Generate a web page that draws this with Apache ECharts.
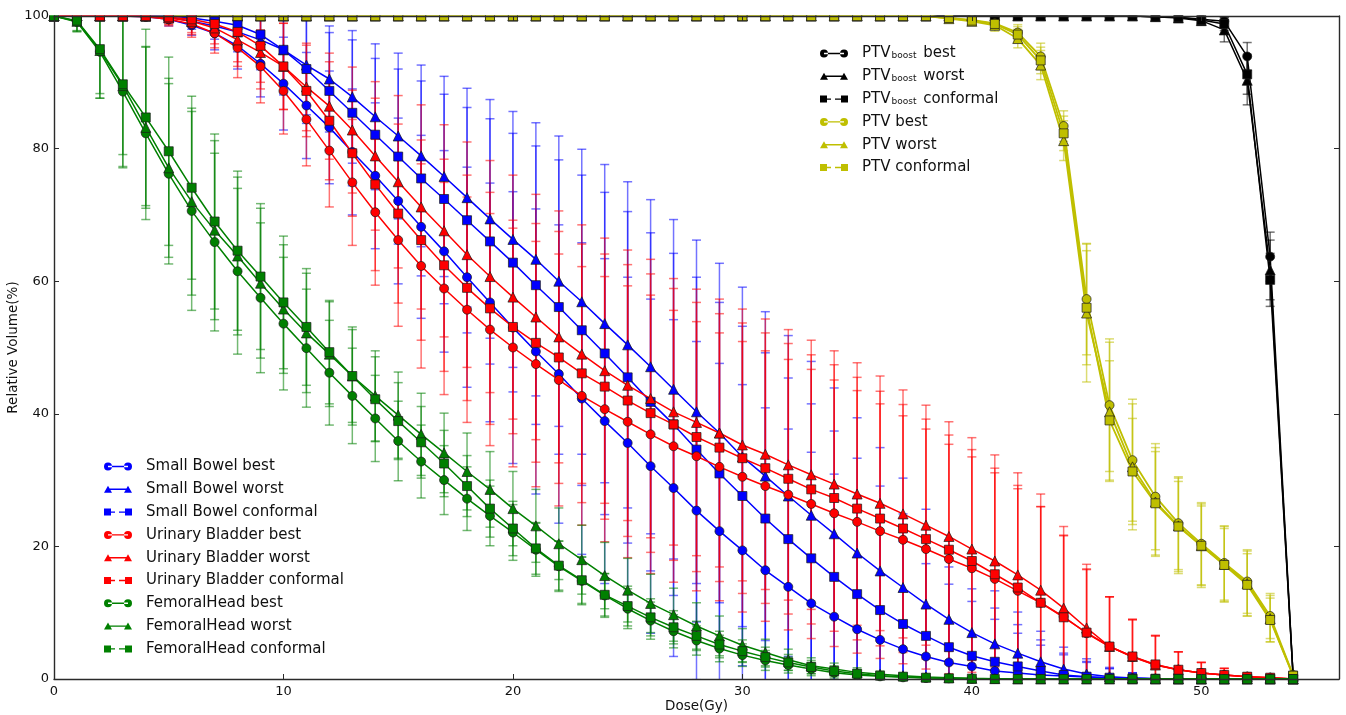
<!DOCTYPE html>
<html>
<head>
<meta charset="utf-8">
<title>Dose-volume histogram</title>
<script src="https://cdn.jsdelivr.net/npm/echarts/dist/echarts.min.js"></script>
<style>
  html, body { margin: 0; padding: 0; background: #fff; }
  #chart { width: 1346px; height: 715px; }
</style>
</head>
<body>
<div id="chart"></div>
<script>
// Dose sampling points (Gy)
const doses = [0,1,2,3,4,5,6,7,8,9,10,11,12,13,14,15,16,17,18,19,20,21,22,23,24,25,26,27,28,29,30,31,32,33,34,35,36,37,38,39,40,41,42,43,44,45,46,47,48,49,50,51,52,53,54];

// ---- PTV boost (relative volume %, and +/- spread) ----
const boostBest  = [100,100,100,100,100,100,100,100,100,100,100,100,100,100,100,100,100,100,100,100,100,100,100,100,100,100,100,100,100,100,100,100,100,100,100,100,100,100,100,100,100,100,100,100,100,100,100,100,99.9,99.8,99.5,99.2,93.9,63.7,0.5];
const boostWorst = [100,100,100,100,100,100,100,100,100,100,100,100,100,100,100,100,100,100,100,100,100,100,100,100,100,100,100,100,100,100,100,100,100,100,100,100,100,100,100,100,100,100,100,100,100,100,100,100,99.9,99.7,99.3,97.9,90.3,61.7,0.4];
const boostConf  = [100,100,100,100,100,100,100,100,100,100,100,100,100,100,100,100,100,100,100,100,100,100,100,100,100,100,100,100,100,100,100,100,100,100,100,100,100,100,100,100,100,100,100,100,100,100,100,100,99.9,99.8,99.4,98.8,91.2,60.2,0.5];
const boostBestErr  = [0,0,0,0,0,0,0,0,0,0,0,0,0,0,0,0,0,0,0,0,0,0,0,0,0,0,0,0,0,0,0,0,0,0,0,0,0,0,0,0,0,0,0,0,0,0,0,0,0.1,0.2,0.5,0.8,2.1,3.7,0.3];
const boostWorstErr = [0,0,0,0,0,0,0,0,0,0,0,0,0,0,0,0,0,0,0,0,0,0,0,0,0,0,0,0,0,0,0,0,0,0,0,0,0,0,0,0,0,0,0,0,0,0,0,0,0.1,0.3,0.7,1.8,3.7,4.5,0.3];
const boostConfErr  = [0,0,0,0,0,0,0,0,0,0,0,0,0,0,0,0,0,0,0,0,0,0,0,0,0,0,0,0,0,0,0,0,0,0,0,0,0,0,0,0,0,0,0,0,0,0,0,0,0.1,0.2,0.6,1.0,3.0,4.0,0.3];

// ---- PTV ----
const ptvBest  = [100,100,100,100,100,100,100,100,100,100,100,100,100,100,100,100,100,100,100,100,100,100,100,100,100,100,100,100,100,100,100,100,100,100,100,100,100,100,100,99.7,99.4,98.9,97.5,93.9,83.4,57.3,41.3,33.0,27.5,23.5,20.4,17.5,14.7,9.5,0.6];
const ptvWorst = [100,100,100,100,100,100,100,100,100,100,100,100,100,100,100,100,100,100,100,100,100,100,100,100,100,100,100,100,100,100,100,100,100,100,100,100,100,100,100,99.6,99.2,98.6,96.6,92.6,81.2,55.2,40.3,32.0,26.7,23.1,20.1,17.3,14.4,9.1,0.5];
const ptvConf  = [100,100,100,100,100,100,100,100,100,100,100,100,100,100,100,100,100,100,100,100,100,100,100,100,100,100,100,100,100,100,100,100,100,100,100,100,100,100,100,99.7,99.3,98.8,97.2,93.3,82.3,56.0,39.0,31.3,26.5,23.0,20.1,17.2,14.2,8.9,0.5];
const ptvBestErr  = [0,0,0,0,0,0,0,0,0,0,0,0,0,0,0,0,0,0,0,0,0,0,0,0,0,0,0,0,0,0,0,0,0,0,0,0,0,0,0,0.3,0.5,0.8,1.2,2.0,2.3,8.4,10.0,9.2,8.0,7.0,6.2,5.6,4.8,3.4,0.3];
const ptvWorstErr = [0,0,0,0,0,0,0,0,0,0,0,0,0,0,0,0,0,0,0,0,0,0,0,0,0,0,0,0,0,0,0,0,0,0,0,0,0,0,0,0.3,0.6,0.9,1.4,2.2,3.0,10.4,10.5,9.5,8.2,7.2,6.3,5.7,4.9,3.5,0.3];
const ptvConfErr  = [0,0,0,0,0,0,0,0,0,0,0,0,0,0,0,0,0,0,0,0,0,0,0,0,0,0,0,0,0,0,0,0,0,0,0,0,0,0,0,0.3,0.5,0.8,1.2,2.0,2.6,8.6,9.0,8.0,7.8,6.8,6.0,5.5,4.7,3.3,0.3];

// ---- Small Bowel ----
const bowelBest  = [100,100,100,100,99.9,99.5,98.6,97.4,95.5,92.8,89.8,86.5,83.2,79.5,75.9,72.1,68.2,64.5,60.6,56.8,53.0,49.4,46.0,42.3,38.9,35.6,32.1,28.8,25.4,22.3,19.4,16.4,13.9,11.4,9.4,7.5,5.9,4.5,3.4,2.5,1.9,1.2,0.9,0.6,0.45,0.3,0.15,0.1,0.05,0,0,0,0,0,0];
const bowelWorst = [100,100,100,100,100,99.8,99.2,98.5,97.6,96.4,94.9,92.6,90.5,87.8,84.8,81.9,78.9,75.8,72.6,69.4,66.3,63.3,60.0,56.9,53.6,50.4,47.1,43.7,40.3,37.1,33.5,30.6,27.6,24.7,21.9,19.0,16.3,13.8,11.3,9.0,7.0,5.3,3.9,2.6,1.5,0.75,0.35,0.15,0.05,0,0,0,0,0,0];
const bowelConf  = [100,100,100,100,100,100,99.7,99.2,98.6,97.2,94.9,92.0,88.7,85.4,82.1,78.8,75.5,72.4,69.2,66.0,62.8,59.4,56.1,52.6,49.1,45.5,41.8,38.4,34.6,31.0,27.6,24.2,21.1,18.2,15.4,12.8,10.4,8.3,6.5,4.8,3.5,2.6,1.9,1.2,0.6,0.35,0.2,0.1,0.05,0,0,0,0,0,0];
const bowelBestErr  = [0,0,0,0,0,1.0,1.5,2.5,3.5,5.0,7.0,8.0,8.5,9.5,11.0,12.5,13.8,15.2,16.6,18.0,20.5,21.5,22.5,23.5,24.5,25.0,25.2,25.4,25.5,25.3,25.0,24.5,23.8,22.8,21.5,20.0,18.2,16.2,14.0,11.8,9.8,7.8,6.0,4.5,3.2,2.2,1.4,0.8,0.4,0.2,0,0,0,0,0];
const bowelWorstErr = [0,0,0,0,0,0.8,1.2,2.0,3.0,4.5,6.5,7.5,8.0,10.0,11.0,12.5,13.7,15.1,16.5,18.0,19.3,20.6,21.9,23.0,24.0,24.6,25.2,25.6,25.9,25.6,25.6,24.8,24.2,23.2,22.0,20.4,18.6,16.5,14.3,12.0,10.0,8.0,6.2,4.6,3.3,2.3,1.4,0.8,0.4,0.2,0,0,0,0,0];
const bowelConfErr  = [0,0,0,0,0,0.6,1.0,1.8,2.8,4.2,6.8,8.2,8.8,11.0,11.5,13.2,14.7,15.8,17.0,18.5,19.5,21.0,22.2,23.4,24.3,25.0,25.5,25.8,26.0,25.8,25.6,25.0,24.3,23.3,22.0,20.5,18.7,16.6,14.4,12.1,10.1,8.1,6.3,4.7,3.3,2.3,1.4,0.8,0.4,0.2,0,0,0,0,0];

// ---- Urinary Bladder ----
const bladderBest  = [100,100,100,100,99.9,99.5,98.8,97.4,95.2,92.4,88.7,84.4,79.7,74.9,70.4,66.2,62.3,58.9,55.7,52.7,50.0,47.5,45.1,42.7,40.7,38.8,36.9,35.1,33.6,32.0,30.5,29.1,27.8,26.4,25.0,23.7,22.3,21.0,19.6,18.1,16.7,15.1,13.3,11.5,9.4,6.9,4.9,3.3,2.1,1.4,0.9,0.6,0.35,0.2,0];
const bladderWorst = [100,100,100,100,100,99.7,99.2,98.2,96.4,94.5,92.4,89.3,86.4,82.8,78.9,75.0,71.2,67.6,64.0,60.7,57.6,54.6,51.6,49.0,46.5,44.3,42.3,40.3,38.7,37.1,35.3,33.9,32.3,30.8,29.4,27.9,26.5,24.9,23.2,21.5,19.6,17.8,15.7,13.4,10.7,7.7,4.9,3.4,2.1,1.4,0.9,0.6,0.35,0.2,0];
const bladderConf  = [100,100,100,100,100,99.8,99.5,98.8,97.6,95.5,92.4,88.7,84.2,79.3,74.6,70.2,66.2,62.4,59.0,55.9,53.1,50.7,48.5,46.1,44.1,42.0,40.1,38.4,36.5,34.9,33.3,31.8,30.2,28.6,27.3,25.7,24.2,22.7,21.1,19.5,17.8,15.8,13.8,11.5,9.3,7.0,4.9,3.4,2.2,1.4,0.9,0.6,0.35,0.2,0];
const bladderBestErr  = [0,0,0,0,0,1.0,2.0,3.0,4.5,5.5,6.5,7.0,8.5,9.5,11.0,13.0,15.4,16.0,17.0,17.5,18.0,18.5,19.0,19.5,20.0,20.5,21.0,20.5,20.3,20.2,20.4,20.4,20.4,20.3,20.1,19.8,19.2,18.7,18.1,17.3,16.8,16.0,15.4,14.5,12.3,9.6,7.5,5.6,4.4,2.7,1.6,1.0,0.5,0.3,0];
const bladderWorstErr = [0,0,0,0,0,1.0,2.0,3.0,4.0,5.5,6.5,6.6,8.0,9.5,11.2,13.0,15.4,16.0,17.0,17.5,18.4,18.5,19.0,19.5,20.0,20.4,21.0,20.1,20.1,20.2,20.5,20.4,20.4,20.3,20.1,19.8,19.2,18.7,18.1,17.3,16.8,16.0,15.4,14.5,12.3,9.6,7.5,5.6,4.4,2.7,1.6,1.0,0.5,0.3,0];
const bladderConfErr  = [0,0,0,0,0,1.0,2.0,3.0,4.5,5.5,6.5,6.9,8.9,9.5,13.0,13.5,15.1,16.0,17.0,17.5,16.1,18.0,19.0,19.5,20.0,20.5,21.0,20.5,20.3,20.2,20.4,20.4,20.4,20.3,20.1,19.8,19.2,18.7,18.1,17.3,16.8,16.0,15.4,14.5,12.3,9.6,7.5,5.6,4.4,2.7,1.6,1.0,0.5,0.3,0];

// ---- Femoral Head ----
const femoralBest  = [100,99.1,94.6,88.6,82.3,76.2,70.6,65.9,61.5,57.5,53.6,49.9,46.2,42.7,39.3,35.9,32.8,30.0,27.2,24.6,22.1,19.5,17.0,14.8,12.6,10.6,8.8,7.2,5.8,4.6,3.6,2.8,2.1,1.5,0.95,0.6,0.4,0.25,0.15,0.1,0.05,0,0,0,0,0,0,0,0,0,0,0,0,0,0];
const femoralWorst = [100,99.2,94.8,89.5,83.2,77.1,72.0,67.7,63.8,59.7,55.8,52.2,49.0,45.7,42.7,39.8,36.9,34.1,31.3,28.6,25.7,23.1,20.4,18.0,15.6,13.4,11.4,9.7,8.0,6.5,5.1,4.0,2.9,2.0,1.5,1.0,0.7,0.5,0.3,0.2,0.1,0.05,0,0,0,0,0,0,0,0,0,0,0,0,0];
const femoralConf  = [100,99.3,95.0,89.7,84.7,79.6,74.1,69.0,64.6,60.7,56.8,53.1,49.3,45.7,42.2,38.9,35.7,32.5,29.1,25.7,22.7,19.7,17.1,14.9,12.7,11.0,9.3,7.8,6.5,5.2,4.2,3.3,2.5,1.8,1.2,0.8,0.5,0.35,0.2,0.1,0.05,0,0,0,0,0,0,0,0,0,0,0,0,0,0];
const femoralBestErr  = [0,1.5,7.0,11.5,13.0,13.6,15.0,13.4,12.5,11.3,10.0,8.9,7.9,7.2,6.5,6.0,5.5,5.2,4.8,4.5,4.2,4.0,3.8,3.6,3.3,3.0,2.8,2.5,2.2,2.0,1.7,1.5,1.2,1.0,0.8,0.6,0.45,0.3,0.2,0.15,0.1,0,0,0,0,0,0,0,0,0,0,0,0,0,0];
const femoralWorstErr = [0,1.5,7.2,12.2,12.2,13.5,14.1,13.5,11.9,11.3,9.7,9.0,7.9,7.4,6.8,6.5,6.2,6.0,5.8,5.7,5.6,5.5,5.4,5.2,5.0,4.8,4.4,4.0,3.5,3.0,2.5,2.0,1.6,1.2,0.9,0.7,0.5,0.35,0.25,0.15,0.1,0,0,0,0,0,0,0,0,0,0,0,0,0,0];
const femoralConfErr  = [0,1.5,6.7,10.6,13.3,14.2,13.8,13.2,12.0,11.0,10.0,8.8,7.8,7.0,6.4,5.8,5.4,5.0,4.6,4.3,4.1,3.9,3.7,3.5,3.2,3.0,2.8,2.5,2.2,2.0,1.7,1.5,1.2,1.0,0.8,0.6,0.45,0.3,0.2,0.15,0.1,0,0,0,0,0,0,0,0,0,0,0,0,0,0];

// Axis tick values
const xTicks = [0, 10, 20, 30, 40, 50];
const yTicks = [0, 20, 40, 60, 80, 100];

const FONT = 'DejaVu Sans';
const TEXT = '#111';
const AXIS = '#2a2a2a';

// Legend icons (line with a marker at each end), drawn in a 28 x 14 box
const ICON_BEST  = 'path://M0,7a4,4 0 1,0 8,0a4,4 0 1,0 -8,0Z M20,7a4,4 0 1,0 8,0a4,4 0 1,0 -8,0Z M4,6.3H24V7.7H4Z';
const ICON_WORST = 'path://M0,10.5L4,3.5L8,10.5Z M20,10.5L24,3.5L28,10.5Z M4,6.3H24V7.7H4Z';
const ICON_CONF  = 'path://M0,3.5H7V10.5H0Z M21,3.5H28V10.5H21Z M7,6.3H11V7.7H7Z M15,6.3H21V7.7H15Z';

const structures = [
  { label: 'PTVboost',        color: '#000000', best: boostBest,   worst: boostWorst,   conf: boostConf,   bestErr: boostBestErr,   worstErr: boostWorstErr,   confErr: boostConfErr },
  { label: 'PTV',             color: '#bfbf00', best: ptvBest,     worst: ptvWorst,     conf: ptvConf,     bestErr: ptvBestErr,     worstErr: ptvWorstErr,     confErr: ptvConfErr },
  { label: 'Small Bowel',     color: '#0000ff', best: bowelBest,   worst: bowelWorst,   conf: bowelConf,   bestErr: bowelBestErr,   worstErr: bowelWorstErr,   confErr: bowelConfErr },
  { label: 'Urinary Bladder', color: '#ff0000', best: bladderBest, worst: bladderWorst, conf: bladderConf, bestErr: bladderBestErr, worstErr: bladderWorstErr, confErr: bladderConfErr },
  { label: 'FemoralHead',     color: '#008000', best: femoralBest, worst: femoralWorst, conf: femoralConf, bestErr: femoralBestErr, worstErr: femoralWorstErr, confErr: femoralConfErr }
];

const variants = [
  { key: 'best',  suffix: 'best',      symbol: 'circle',   size: 9,  icon: ICON_BEST },
  { key: 'worst', suffix: 'worst',     symbol: 'triangle', size: 10, icon: ICON_WORST },
  { key: 'conf',  suffix: 'conformal', symbol: 'rect',     size: 9,  icon: ICON_CONF }
];

function hexToRgba(hex, a) {
  const n = parseInt(hex.slice(1), 16);
  return 'rgba(' + ((n >> 16) & 255) + ',' + ((n >> 8) & 255) + ',' + (n & 255) + ',' + a + ')';
}

// Vertical error bar with caps, positioned through the grid's scales
function renderErrorBar(params, api) {
  const x = api.value(0), lo = api.value(1), hi = api.value(2);
  if (!(hi - lo > 0.05)) return null;
  const top = api.coord([x, hi]);
  const bot = api.coord([x, lo]);
  const cap = 4.5;
  const style = { stroke: api.visual('color'), lineWidth: 1.5 };
  return {
    type: 'group',
    children: [
      { type: 'line', shape: { x1: top[0], y1: top[1], x2: bot[0], y2: bot[1] }, style: style },
      { type: 'line', shape: { x1: top[0] - cap, y1: top[1], x2: top[0] + cap, y2: top[1] }, style: style },
      { type: 'line', shape: { x1: bot[0] - cap, y1: bot[1], x2: bot[0] + cap, y2: bot[1] }, style: style }
    ]
  };
}

const series = [];
const legendTop = [];
const legendBottom = [];

structures.forEach(function (s, si) {
  variants.forEach(function (v) {
    const name = s.label + ' ' + v.suffix;
    const vals = s[v.key];
    const errs = s[v.key + 'Err'];
    series.push({
      name: name + ' spread',
      type: 'custom',
      renderItem: renderErrorBar,
      data: doses.map(function (d, i) { return [d, vals[i] - errs[i], vals[i] + errs[i]]; }),
      encode: { x: 0, y: [1, 2] },
      itemStyle: { color: hexToRgba(s.color, 0.55) },
      clip: true,
      silent: true,
      z: 2
    });
    series.push({
      name: name,
      type: 'line',
      data: doses.map(function (d, i) { return [d, vals[i]]; }),
      symbol: v.symbol,
      symbolSize: v.size,
      showSymbol: true,
      showAllSymbol: true,
      clip: true,
      lineStyle: { color: s.color, width: s.label === 'PTV' ? 1.8 : 1.5 },
      itemStyle: { color: s.color, borderColor: '#1a1a1a', borderWidth: 0.7 },
      emphasis: { disabled: true },
      z: 3
    });
    const entry = { name: name, icon: v.icon };
    if (si < 2) legendTop.push(entry); else legendBottom.push(entry);
  });
});

const legendRich = {
  sp: { width: 9, lineHeight: 14 },
  n:  { fontSize: 15, fontFamily: FONT, color: TEXT, lineHeight: 14 },
  s:  { fontSize: 9,  fontFamily: FONT, color: TEXT, lineHeight: 14, verticalAlign: 'bottom', padding: [0, 2, 0, 1] }
};
function legendLabel(name) {
  if (name.indexOf('PTVboost') === 0) {
    return '{sp|}{n|PTV}{s|boost}{n|' + name.slice(8) + '}';
  }
  return '{sp|}{n|' + name + '}';
}
function legendBlock(data, left, top) {
  return {
    data: data,
    orient: 'vertical',
    left: left,
    top: top,
    itemWidth: 28,
    itemHeight: 14,
    itemGap: 7.8,
    padding: 0,
    selectedMode: false,
    itemStyle: { borderWidth: 0 },
    formatter: legendLabel,
    textStyle: { rich: legendRich }
  };
}

const tickLabel = { color: TEXT, fontSize: 13, fontFamily: FONT };
function xLabel(v) { return xTicks.indexOf(v) >= 0 ? String(v) : ''; }
function yLabel(v) { return yTicks.indexOf(v) >= 0 ? String(v) : ''; }

const option = {
  animation: false,
  backgroundColor: '#ffffff',
  grid: { left: 54, right: 7, top: 16, bottom: 36, containLabel: false, outerBoundsMode: 'none' },
  legend: [legendBlock(legendTop, 820, 46), legendBlock(legendBottom, 104, 459)],
  xAxis: [
    {
      type: 'value', min: 0, max: 56, interval: 10, position: 'bottom',
      name: 'Dose(Gy)', nameLocation: 'middle', nameGap: 20, nameMoveOverlap: false,
      nameTextStyle: { color: TEXT, fontSize: 13.5, fontFamily: FONT },
      axisLine: { show: true, onZero: false, lineStyle: { color: AXIS, width: 1.4 } },
      axisTick: { show: true, inside: true, length: 5, lineStyle: { color: AXIS, width: 1 } },
      axisLabel: Object.assign({ margin: 6, formatter: xLabel }, tickLabel),
      splitLine: { show: false },
      z: 60
    },
    {
      type: 'value', min: 0, max: 56, interval: 10, position: 'top',
      axisLine: { show: true, onZero: false, lineStyle: { color: AXIS, width: 1.4 } },
      axisTick: { show: true, inside: true, length: 5, lineStyle: { color: AXIS, width: 1 } },
      axisLabel: { show: false },
      splitLine: { show: false },
      z: 60
    }
  ],
  yAxis: [
    {
      type: 'value', min: 0, max: 100, interval: 20, position: 'left',
      name: 'Relative Volume(%)', nameLocation: 'middle', nameGap: 34, nameMoveOverlap: false,
      nameTextStyle: { color: TEXT, fontSize: 13.5, fontFamily: FONT },
      axisLine: { show: true, onZero: false, lineStyle: { color: AXIS, width: 1.4 } },
      axisTick: { show: true, inside: true, length: 5, lineStyle: { color: AXIS, width: 1 } },
      axisLabel: Object.assign({ margin: 5, formatter: yLabel }, tickLabel),
      splitLine: { show: false },
      z: 60
    },
    {
      type: 'value', min: 0, max: 100, interval: 20, position: 'right',
      axisLine: { show: true, onZero: false, lineStyle: { color: AXIS, width: 1.4 } },
      axisTick: { show: true, inside: true, length: 5, lineStyle: { color: AXIS, width: 1 } },
      axisLabel: { show: false },
      splitLine: { show: false },
      z: 60
    }
  ],
  // white band above the plotting area so markers sitting on 100 % read as cut by the frame
  graphic: [
    { type: 'rect', left: 0, top: 0, z: 50, silent: true, shape: { width: 1346, height: 15.3 }, style: { fill: '#ffffff' } }
  ],
  series: series
};

const chart = echarts.init(document.getElementById('chart'), null, { renderer: 'canvas' });
chart.setOption(option);
</script>
</body>
</html>
